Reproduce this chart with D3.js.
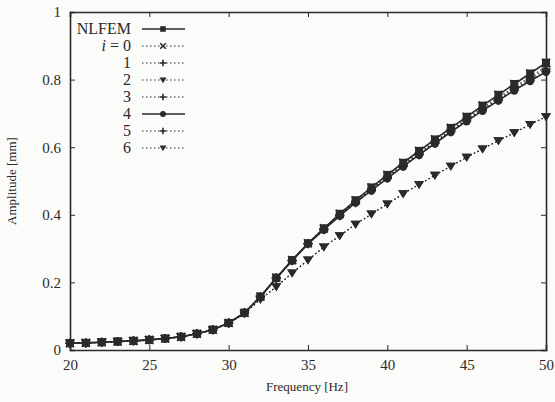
<!DOCTYPE html>
<html>
<head>
<meta charset="utf-8">
<script src="https://cdn.jsdelivr.net/npm/d3@7/dist/d3.min.js"></script>
<style>
  body { margin: 0; background: #fbfbf9; }
  svg { display: block; }
</style>
</head>
<body>
<div id="chart"></div>
<script>
// frequency points [Hz]
const freqs = [20,21,22,23,24,25,26,27,28,29,30,31,32,33,34,35,36,37,38,39,40,41,42,43,44,45,46,47,48,49,50];

// amplitudes [mm]
const nlfem = [0.020,0.021,0.023,0.025,0.027,0.030,0.034,0.039,0.048,0.060,0.080,0.110,0.158,0.214,0.266,0.316,0.360,0.403,0.443,0.481,0.518,0.554,0.589,0.623,0.657,0.690,0.723,0.755,0.787,0.818,0.850];
const iter0 = [0.020,0.021,0.023,0.025,0.027,0.030,0.034,0.039,0.048,0.060,0.080,0.110,0.158,0.214,0.266,0.316,0.360,0.403,0.443,0.481,0.518,0.554,0.589,0.623,0.657,0.690,0.723,0.755,0.787,0.818,0.850];
const iter1 = [0.020,0.021,0.023,0.025,0.027,0.030,0.034,0.039,0.048,0.060,0.080,0.110,0.158,0.213,0.265,0.315,0.358,0.400,0.440,0.477,0.513,0.549,0.583,0.617,0.651,0.684,0.716,0.747,0.778,0.808,0.838];
const iter2 = [0.020,0.021,0.023,0.025,0.027,0.030,0.034,0.039,0.048,0.060,0.080,0.108,0.150,0.187,0.228,0.266,0.305,0.338,0.372,0.402,0.432,0.462,0.490,0.517,0.544,0.570,0.595,0.619,0.643,0.667,0.690];
const iter3 = [0.020,0.021,0.023,0.025,0.027,0.030,0.034,0.039,0.048,0.060,0.080,0.110,0.157,0.213,0.265,0.315,0.357,0.399,0.438,0.475,0.511,0.546,0.580,0.614,0.648,0.681,0.712,0.742,0.773,0.802,0.831];
const iter4 = [0.020,0.021,0.023,0.025,0.027,0.030,0.034,0.039,0.048,0.060,0.080,0.110,0.157,0.212,0.264,0.314,0.356,0.397,0.436,0.472,0.508,0.543,0.577,0.611,0.645,0.677,0.708,0.738,0.768,0.796,0.823];
const iter5 = [0.020,0.021,0.023,0.025,0.027,0.030,0.034,0.039,0.048,0.060,0.080,0.110,0.157,0.212,0.264,0.314,0.356,0.397,0.436,0.473,0.509,0.544,0.578,0.612,0.646,0.678,0.709,0.739,0.769,0.797,0.824];
const iter6 = [0.020,0.021,0.023,0.025,0.027,0.030,0.034,0.039,0.048,0.060,0.080,0.108,0.150,0.187,0.228,0.266,0.305,0.338,0.372,0.402,0.432,0.462,0.490,0.517,0.544,0.570,0.595,0.619,0.643,0.667,0.690];

const seriesNames = ["NLFEM", "0", "1", "2", "3", "4", "5", "6"];
const seriesValues = [nlfem, iter0, iter1, iter2, iter3, iter4, iter5, iter6];

const xTicks = [20, 25, 30, 35, 40, 45, 50];
const yTicks = [0, 0.2, 0.4, 0.6, 0.8, 1];
const yTickLabels = ["0", "0.2", "0.4", "0.6", "0.8", "1"];

const width = 555, height = 402;
const ink = "#2a2a2a";

// line style + marker per series (gnuplot-like)
const styles = [
  {dash: null,  marker: "square"},
  {dash: "1.5,2.5", marker: "x"},
  {dash: "1.5,2.5", marker: "plus"},
  {dash: "1.5,2.5", marker: "tri"},
  {dash: "1.5,2.5", marker: "plus"},
  {dash: null,  marker: "circle"},
  {dash: "1.5,2.5", marker: "plus"},
  {dash: "1.5,2.5", marker: "tri"}
];

const x = d3.scaleLinear().domain([20, 50]).range([70, 546]);
const y = d3.scaleLinear().domain([0, 1]).range([350, 12]);

const svg = d3.select("#chart").append("svg")
  .attr("width", width)
  .attr("height", height)
  .style("font-family", "'Liberation Serif', 'DejaVu Serif', serif");

svg.append("rect").attr("width", width).attr("height", height).attr("fill", "#fbfbf9");

// axes with inward ticks
const xAxis = svg.append("g").attr("transform", `translate(0,${y(0)})`)
  .call(d3.axisBottom(x).tickValues(xTicks).tickSize(-5).tickPadding(9).tickFormat(d3.format("d")));
const xTop = svg.append("g").attr("transform", `translate(0,${y(1)})`)
  .call(d3.axisTop(x).tickValues(xTicks).tickSize(-5).tickFormat(""));
const yAxis = svg.append("g").attr("transform", `translate(${x(20)},0)`)
  .call(d3.axisLeft(y).tickValues(yTicks).tickSize(-5).tickPadding(9).tickFormat((d, i) => yTickLabels[i]));
const yRight = svg.append("g").attr("transform", `translate(${x(50)},0)`)
  .call(d3.axisRight(y).tickValues(yTicks).tickSize(-5).tickFormat(""));

[xAxis, xTop, yAxis, yRight].forEach(g => {
  g.select(".domain").attr("stroke", ink).attr("stroke-width", 1.6);
  g.selectAll(".tick line").attr("stroke", ink).attr("stroke-width", 1);
  g.selectAll(".tick text").attr("fill", ink).attr("font-size", 15)
    .attr("font-family", "'Liberation Serif', 'DejaVu Serif', serif");
});

// markers (k scales the size)
function drawMarker(g, type, cx, cy, k) {
  if (type === "square") {
    g.append("rect").attr("x", cx - 4 * k).attr("y", cy - 4 * k).attr("width", 8 * k).attr("height", 8 * k).attr("fill", ink);
  } else if (type === "circle") {
    g.append("circle").attr("cx", cx).attr("cy", cy).attr("r", 4.2 * k).attr("fill", ink);
  } else if (type === "tri") {
    g.append("path").attr("d", `M${cx - 5 * k},${cy - 3.5 * k}L${cx + 5 * k},${cy - 3.5 * k}L${cx},${cy + 4.5 * k}Z`).attr("fill", ink);
  } else if (type === "x") {
    const r = 4 * k;
    g.append("path").attr("d", `M${cx - r},${cy - r}L${cx + r},${cy + r}M${cx - r},${cy + r}L${cx + r},${cy - r}`)
      .attr("stroke", ink).attr("stroke-width", 1.6);
  } else if (type === "plus") {
    const r = 4.5 * k;
    g.append("path").attr("d", `M${cx - r},${cy}L${cx + r},${cy}M${cx},${cy - r}L${cx},${cy + r}`)
      .attr("stroke", ink).attr("stroke-width", 1.6);
  }
}

const line = d3.line().x((d, i) => x(freqs[i])).y(d => y(d));

const plot = svg.append("g");
// draw from last to first so NLFEM ends on top
for (let s = seriesValues.length - 1; s >= 0; s--) {
  const st = styles[s];
  const g = plot.append("g");
  g.append("path")
    .attr("d", line(seriesValues[s]))
    .attr("fill", "none")
    .attr("stroke", ink)
    .attr("stroke-width", st.dash ? 1.2 : 1.6)
    .attr("stroke-dasharray", st.dash);
  seriesValues[s].forEach((v, i) => drawMarker(g, st.marker, x(freqs[i]), y(v), 1));
}

// legend
const legend = svg.append("g");
seriesNames.forEach((name, i) => {
  const ly = 29 + i * 17;
  const t = legend.append("text")
    .attr("x", 131).attr("y", ly + 5)
    .attr("text-anchor", "end")
    .attr("font-size", 16)
    .attr("fill", ink);
  if (i === 1) {
    t.append("tspan").attr("font-style", "italic").text("i");
    t.append("tspan").text(" = " + name);
  } else {
    t.text(name);
  }
  legend.append("path")
    .attr("d", `M142,${ly}L185,${ly}`)
    .attr("stroke", ink)
    .attr("stroke-width", styles[i].dash ? 1 : 1.6)
    .attr("stroke-dasharray", styles[i].dash);
  drawMarker(legend, styles[i].marker, 163, ly, 0.7);
});

// axis titles
svg.append("text")
  .attr("x", 307).attr("y", 391)
  .attr("text-anchor", "middle")
  .attr("font-size", 13)
  .attr("fill", ink)
  .text("Frequency [Hz]");

svg.append("text")
  .attr("transform", `translate(16,${y(0.5)}) rotate(-90)`)
  .attr("text-anchor", "middle")
  .attr("font-size", 13)
  .attr("fill", ink)
  .text("Amplitude [mm]");
</script>
</body>
</html>
